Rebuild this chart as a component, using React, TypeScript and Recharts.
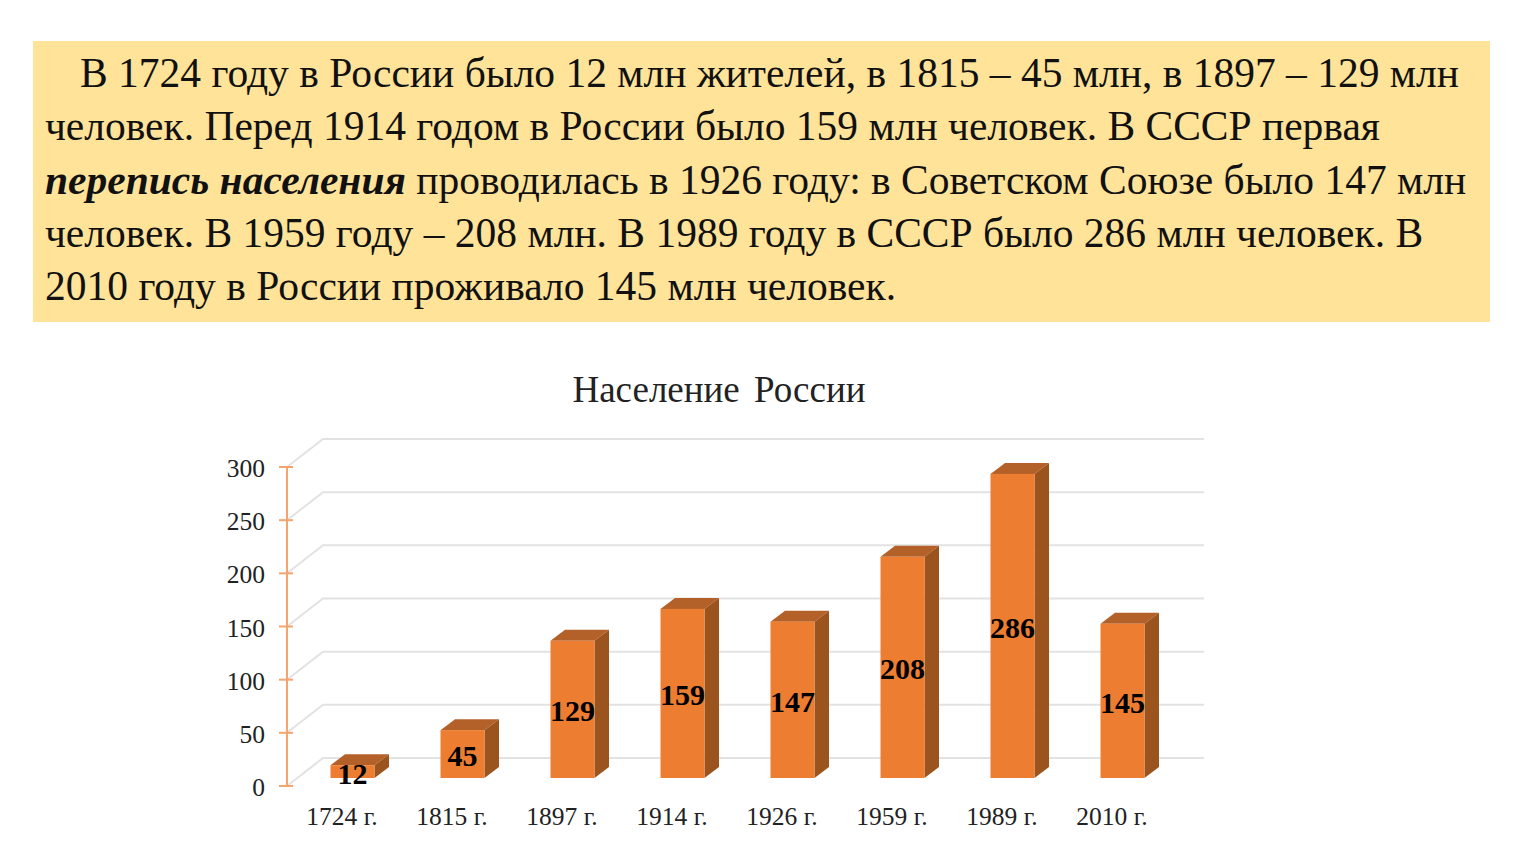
import React from 'react';
import { BarChart, Bar, XAxis, YAxis, CartesianGrid, LabelList } from 'recharts';

const years = ['1724 г.', '1815 г.', '1897 г.', '1914 г.', '1926 г.', '1959 г.', '1989 г.', '2010 г.'];
const population = [12, 45, 129, 159, 147, 208, 286, 145];
const yTicks = [0, 50, 100, 150, 200, 250, 300];

const chartData = years.map((year, i) => ({ year, population: population[i] }));

const SERIF = '"Liberation Serif", serif';

// псевдо-3D: глубина стены и смещение столбца внутри неё
const WALL_DX = 36;
const WALL_DY = 28;
const BAR_DX = 10.5;
const BAR_DY = 8;
const BAR_DEPTH_X = 14.5;
const BAR_DEPTH_Y = 11;

const GridLine = (props: any) => {
    const { x1, x2, y1 } = props;
    return (
        <path
            d={`M${x1} ${y1} L${x1 + WALL_DX} ${y1 - WALL_DY} L${x2 + WALL_DX + 1} ${y1 - WALL_DY}`}
            fill="none"
            stroke="#e2e2e2"
            strokeWidth={2}
        />
    );
};

const Bar3D = (props: any) => {
    const { x, y, width, height } = props;
    const left = x + BAR_DX;
    const top = y - BAR_DY;
    const right = left + width;
    const bottom = top + height;
    return (
        <g>
            <polygon
                points={`${left},${top} ${left + BAR_DEPTH_X},${top - BAR_DEPTH_Y} ${right + BAR_DEPTH_X},${top - BAR_DEPTH_Y} ${right},${top}`}
                fill="#b46129"
            />
            <polygon
                points={`${right},${top} ${right + BAR_DEPTH_X},${top - BAR_DEPTH_Y} ${right + BAR_DEPTH_X},${bottom - BAR_DEPTH_Y} ${right},${bottom}`}
                fill="#9c541f"
            />
            <rect x={left} y={top} width={width} height={height} fill="#ed7d31" />
        </g>
    );
};

const BarValue = (props: any) => {
    const { x, y, width, height, value } = props;
    return (
        <text
            x={x + BAR_DX + width / 2}
            y={y - BAR_DY + height / 2 + 12}
            textAnchor="middle"
            fontFamily={SERIF}
            fontWeight="bold"
            fontSize={30}
            fill="#000"
        >
            {value}
        </text>
    );
};

const ValueTick = (props: any) => {
    const { x, y, payload } = props;
    return (
        <g>
            <line x1={x} x2={x + 14} y1={y} y2={y} stroke="#f4a46c" strokeWidth={2} />
            <text x={x - 14} y={y + 10} textAnchor="end" fontFamily={SERIF} fontSize={25.5} fill="#222">
                {payload.value}
            </text>
        </g>
    );
};

const YearTick = (props: any) => {
    const { x, y, payload } = props;
    return (
        <text x={x} y={y + 31} textAnchor="middle" fontFamily={SERIF} fontSize={25.5} fill="#222">
            {payload.value}
        </text>
    );
};

export default function App() {
    return (
        <div style={{ position: 'absolute', left: 0, top: 0, width: 1533, height: 864, background: '#fff', overflow: 'hidden' }}>
            <div
                style={{
                    position: 'absolute',
                    left: 33,
                    top: 41,
                    width: 1457,
                    height: 281,
                    background: '#ffe399',
                    fontFamily: SERIF,
                    fontSize: 41.5,
                    lineHeight: '53.3px',
                    color: '#111',
                    whiteSpace: 'nowrap',
                    paddingLeft: 12,
                    paddingTop: 6,
                    boxSizing: 'border-box',
                }}
            >
                <span style={{ marginLeft: 35 }}>В 1724 году в России было 12 млн жителей, в 1815 – 45 млн, в 1897 – 129 млн</span>
                <br />
                человек. Перед 1914 годом в России было 159 млн человек. В СССР первая
                <br />
                <b>
                    <i>перепись населения</i>
                </b>{' '}
                проводилась в 1926 году: в Советском Союзе было 147 млн
                <br />
                человек. В 1959 году – 208 млн. В 1989 году в СССР было 286 млн человек. В
                <br />
                2010 году в России проживало 145 млн человек.
            </div>
            <div
                style={{
                    position: 'absolute',
                    left: 419,
                    top: 369,
                    width: 600,
                    textAlign: 'center',
                    fontFamily: SERIF,
                    fontSize: 37,
                    wordSpacing: 5,
                    lineHeight: '42px',
                    color: '#222',
                }}
            >
                Население России
            </div>
            <div style={{ position: 'absolute', left: 0, top: 0 }}>
                <BarChart
                    width={1533}
                    height={864}
                    data={chartData}
                    margin={{ top: 467, right: 366, bottom: 0, left: 227 }}
                    barSize={44}
                >
                    <CartesianGrid vertical={false} horizontal={GridLine as any} />
                    <XAxis dataKey="year" axisLine={false} tickLine={false} height={78} tick={YearTick as any} interval={0} />
                    <YAxis
                        width={60}
                        domain={[0, 300]}
                        ticks={yTicks}
                        axisLine={{ stroke: '#f4a46c', strokeWidth: 2 }}
                        tickLine={false}
                        tick={ValueTick as any}
                        interval={0}
                    />
                    <Bar dataKey="population" shape={Bar3D as any} isAnimationActive={false}>
                        <LabelList dataKey="population" content={BarValue as any} />
                    </Bar>
                </BarChart>
            </div>
        </div>
    );
}
